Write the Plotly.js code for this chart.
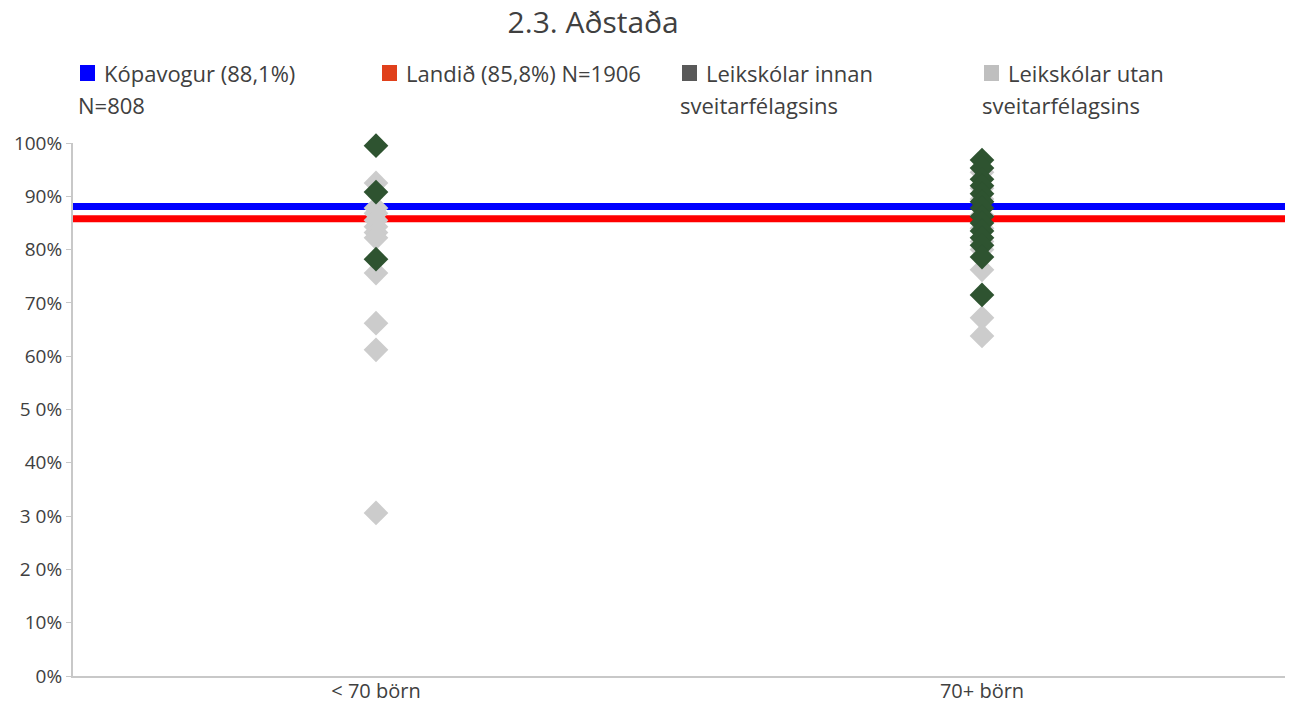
<!DOCTYPE html>
<html>
<head>
<meta charset="utf-8">
<script src="https://cdn.plot.ly/plotly-3.0.1.min.js"></script>
<style>html,body{margin:0;padding:0;background:#fff;}#chart{width:1298px;height:704px;}</style>
</head>
<body>
<div id="chart"></div>
<script>
// ---- data ----
const categories = ['< 70 börn', '70+ börn'];
const kopavogurValue = 88.1;
const landidValue = 85.8;
const smallInnan = [99.5, 90.8, 78.2];
const smallUtan = [92.5, 87.8, 86.8, 85.5, 84.3, 83.2, 82.2, 75.6, 66.2, 61.2, 30.6];
const largeInnan = [96.8, 95.3, 93.2, 92.0, 90.5, 89.0, 87.8, 86.2, 85.0, 83.5, 82.2, 80.8, 78.6, 71.5];
const largeUtan = [94.5, 91.5, 89.5, 86.5, 84.0, 81.5, 80.0, 76.2, 67.2, 63.8];
const yTicks = [0, 10, 20, 30, 40, 50, 60, 70, 80, 90, 100];
const yTickLabels = ['0%', '10%', '2 0%', '3 0%', '40%', '5 0%', '60%', '70%', '80%', '90%', '100%'];
const legendColors = ['#0000ff', '#e0401b', '#595959', '#bfbfbf'];
const legendFirstLines = ['Kópavogur (88,1%)', 'Landið (85,8%) N=1906', 'Leikskólar innan', 'Leikskólar utan'];
const legendSecondLines = ['N=808', '', 'sveitarfélagsins', 'sveitarfélagsins'];

const FONT = '"Open Sans", "Liberation Sans", sans-serif';
const TXT = '#404040';

const utanX = smallUtan.map(() => categories[0]).concat(largeUtan.map(() => categories[1]));
const utanY = smallUtan.concat(largeUtan);
const innanX = smallInnan.map(() => categories[0]).concat(largeInnan.map(() => categories[1]));
const innanY = smallInnan.concat(largeInnan);

const traces = [
  {type: 'scatter', mode: 'markers', x: utanX, y: utanY, name: 'Leikskólar utan sveitarfélagsins',
   marker: {symbol: 'diamond', size: 19, color: '#cccccc'}, showlegend: false, hoverinfo: 'y', cliponaxis: false},
  {type: 'scatter', mode: 'markers', x: innanX, y: innanY, name: 'Leikskólar innan sveitarfélagsins',
   marker: {symbol: 'diamond', size: 19, color: '#2e5330'}, showlegend: false, hoverinfo: 'y', cliponaxis: false}
];

// legend built from swatch shapes + annotations (pixel -> paper conversion)
const PL = 73, PW = 1212, PB = 676, PH = 533;
const px = v => (v - PL) / PW;
const py = v => (PB - v) / PH;
const legendPx = [79, 381, 681, 983];
const annotations = [];
const swatches = [];
legendColors.forEach((c, i) => {
  const x0 = legendPx[i];
  swatches.push({type: 'rect', xref: 'paper', yref: 'paper', x0: px(x0 + 1), x1: px(x0 + 16), y0: py(81), y1: py(65),
    fillcolor: c, line: {width: 0}, layer: 'above'});
  annotations.push({xref: 'paper', yref: 'paper', x: px(x0 + 23), y: py(73), xanchor: 'left', yanchor: 'middle',
    align: 'left', showarrow: false, text: legendFirstLines[i],
    font: {family: FONT, size: 22, color: TXT}});
  if (legendSecondLines[i]) {
    annotations.push({xref: 'paper', yref: 'paper', x: px(x0 - 3), y: py(105), xanchor: 'left', yanchor: 'middle',
      align: 'left', showarrow: false, text: legendSecondLines[i],
      font: {family: FONT, size: 22, color: TXT}});
  }
});

const layout = {
  width: 1298, height: 704,
  margin: {l: 73, r: 13, t: 143, b: 28},
  paper_bgcolor: '#ffffff', plot_bgcolor: '#ffffff',
  showlegend: false,
  title: {text: '2.3. Aðstaða', xref: 'container', yref: 'container', x: 0.457, xanchor: 'center',
          y: 0.968, yanchor: 'middle', font: {family: FONT, size: 30, color: TXT}},
  xaxis: {type: 'category', categoryarray: categories, range: [-0.5, 1.5], showgrid: false, zeroline: false,
          showline: true, linecolor: '#c8c8c8', linewidth: 2, ticks: '', ticklen: 0, ticklabelstandoff: -4,
          tickfont: {family: FONT, size: 20, color: TXT}},
  yaxis: {range: [0, 100], tickvals: yTicks, ticktext: yTickLabels, showgrid: false, zeroline: false,
          showline: true, linecolor: '#c8c8c8', linewidth: 2, ticks: 'outside', ticklen: 5, tickcolor: '#c8c8c8',
          tickwidth: 1, tickfont: {family: FONT, size: 19, color: TXT}},
  shapes: [
    {type: 'line', xref: 'paper', yref: 'y', x0: 0, x1: 1, y0: kopavogurValue, y1: kopavogurValue,
     line: {color: '#0000ff', width: 7}, layer: 'below'},
    {type: 'line', xref: 'paper', yref: 'y', x0: 0, x1: 1, y0: landidValue, y1: landidValue,
     line: {color: '#ff0000', width: 7}, layer: 'below'}
  ].concat(swatches),
  annotations: annotations
};

Plotly.newPlot('chart', traces, layout, {displayModeBar: false, staticPlot: true});
</script>
</body>
</html>
